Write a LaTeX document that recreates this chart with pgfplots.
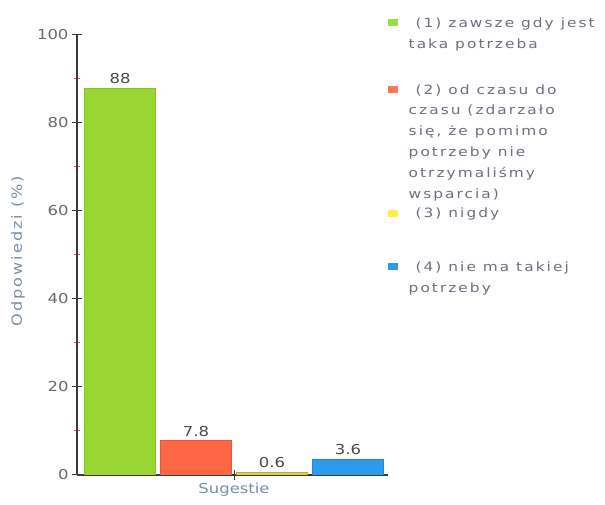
\documentclass[border=0pt]{standalone}
\usepackage{fontspec}
\setmainfont{DejaVu Sans}[FakeStretch=1.2]
\newfontfamily\legfont{DejaVu Sans}[FakeStretch=1.2,LetterSpace=16]
\newfontfamily\labfont{DejaVu Sans}[FakeStretch=1.15,LetterSpace=14]
\usepackage{pgfplots}
\pgfplotsset{compat=1.18}
\definecolor{grn}{HTML}{9AD631}
\definecolor{grnd}{HTML}{86C22A}
\definecolor{grnl}{HTML}{99DD44}
\definecolor{red1}{HTML}{FF6644}
\definecolor{redd}{HTML}{E8553A}
\definecolor{redl}{HTML}{FF7755}
\definecolor{ylw}{HTML}{E0D040}
\definecolor{ylwd}{HTML}{C0A830}
\definecolor{ylwl}{HTML}{FFEE44}
\definecolor{blu}{HTML}{2C9BEA}
\definecolor{blud}{HTML}{1E88D8}
\definecolor{blul}{HTML}{2A9BEF}
\definecolor{axisc}{HTML}{3A3A3A}
\definecolor{minc}{HTML}{E05050}
\definecolor{tickc}{HTML}{6A6A6A}
\definecolor{labc}{HTML}{7A8EA8}
\definecolor{legc}{HTML}{6E6E80}
\definecolor{valc}{HTML}{4A4A4A}
\newcommand\tickfont{\fontsize{13.7}{16}\selectfont}
\newcommand\legtext[1]{\parbox[t]{200pt}{\raggedright\legfont\fontsize{12.8}{20.8}\selectfont #1}}
\begin{document}
\begin{tikzpicture}
\useasboundingbox (0,0) rectangle (605pt,505pt);
\begin{axis}[
  at={(77pt,30pt)}, anchor=south west,
  scale only axis, width=311pt, height=440pt,
  xmin=0.434, xmax=4.526, ymin=0, ymax=100,
  axis lines*=left,
  axis line style={draw=axisc, line width=1.1pt},
  ytick={0,20,...,100}, minor ytick={10,30,...,90},
  xtick={2.5}, xticklabels={Sugestie},
  tick align=center, major tick length=10pt, minor tick length=6pt,
  major tick style={color=axisc, line width=1pt},
  minor tick style={color=minc, line width=1pt},
  yticklabel style={font=\tickfont, text=tickc},
  xticklabel style={font=\tickfont, text=labc},
  ylabel={Odpowiedzi (\%)},
  ylabel style={font=\labfont\fontsize{14}{16}\selectfont, text=labc, at={(axis description cs:-0.19,0.509)}, anchor=center},
  /pgf/number format/assume math mode=true,
  nodes near coords,
  nodes near coords style={font=\tickfont, text=valc, anchor=south, inner sep=4pt},
  legend style={at={(axis description cs:1.0,1.04)}, anchor=north west, draw=none, fill=none,
    inner sep=0pt, row sep=0pt, column sep=11pt,
    cells={anchor=base west},
    nodes={inner sep=0pt, text=legc}},
]
\addplot[ybar, bar shift=0pt, bar width=0.93, fill=grn, draw=grnd,
  legend image code/.code={\path[draw=none,fill=none] (0pt,-57pt) rectangle (0.1pt,8pt);\fill[grnl,draw=none] (0pt,1pt) rectangle (9.5pt,8pt);}]
  coordinates {(1,88)};
\addlegendentry{\legtext{\ (1) zawsze gdy jest\\taka potrzeba}}
\addplot[ybar, bar shift=0pt, bar width=0.93, fill=red1, draw=redd,
  legend image code/.code={\path[draw=none,fill=none] (0pt,-114pt) rectangle (0.1pt,8pt);\fill[redl,draw=none] (0pt,1pt) rectangle (9.5pt,8pt);}]
  coordinates {(2,7.8)};
\addlegendentry{\legtext{\ (2) od czasu do\\czasu (zdarzało\\się, że pomimo\\potrzeby nie\\otrzymaliśmy\\wsparcia)}}
\addplot[ybar, bar shift=0pt, bar width=0.93, fill=ylw, draw=ylwd,
  legend image code/.code={\path[draw=none,fill=none] (0pt,-44pt) rectangle (0.1pt,8pt);\fill[ylwl,draw=none] (0pt,1pt) rectangle (9.5pt,8pt);}]
  coordinates {(3,0.6)};
\addlegendentry{\legtext{\ (3) nigdy}}
\addplot[ybar, bar shift=0pt, bar width=0.93, fill=blu, draw=blud,
  legend image code/.code={\path[draw=none,fill=none] (0pt,-20pt) rectangle (0.1pt,8pt);\fill[blul,draw=none] (0pt,1pt) rectangle (9.5pt,8pt);}]
  coordinates {(4,3.6)};
\addlegendentry{\legtext{\ (4) nie ma takiej\\potrzeby}}
\end{axis}
\end{tikzpicture}
\end{document}
